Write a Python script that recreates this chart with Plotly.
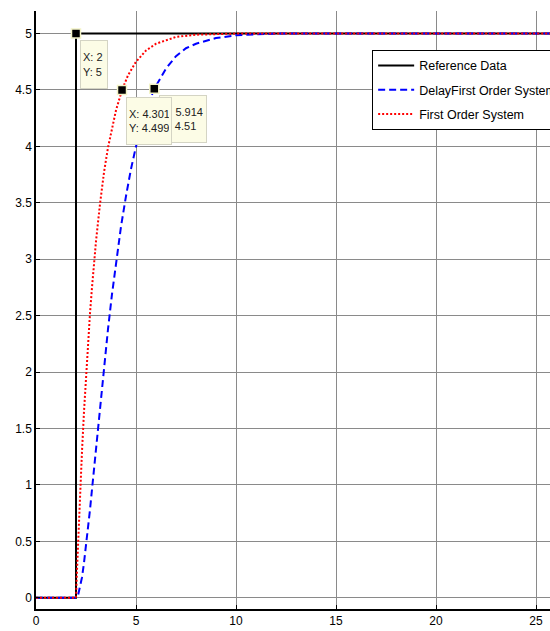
import plotly.graph_objects as go

# Reference step input
ref_t = [0, 2, 2, 30]
ref_y = [0, 0, 5, 5]

# Delay first order system (blue dashed)
delay_t = [0, 2.0, 2.1, 2.2, 2.3, 2.4, 2.5, 2.6, 2.7, 2.8, 2.9, 3.0, 3.2, 3.4, 3.6, 3.8, 4.0,
           4.25, 4.5, 4.75, 5.0, 5.5, 5.914, 6.5, 7.0, 7.5, 8.0, 9.0, 10.0, 11.0, 12.0, 30]
delay_y = [0, 0.0, 0.02, 0.09, 0.18, 0.31, 0.45, 0.61, 0.78, 0.96, 1.14, 1.32, 1.69, 2.04, 2.38, 2.69, 2.97,
           3.29, 3.56, 3.80, 4.00, 4.32, 4.51, 4.69, 4.80, 4.87, 4.91, 4.96, 4.985, 4.99, 5.0, 5.0]

# First order system (red dotted)
first_t = [0, 2.0, 2.05, 2.1, 2.15, 2.2, 2.3, 2.4, 2.5, 2.6, 2.7, 2.8, 2.9, 3.0, 3.2, 3.4, 3.6, 3.8,
           4.0, 4.301, 4.6, 5.0, 5.5, 6.0, 6.5, 7.0, 8.0, 9.0, 10.0, 30]
first_y = [0, 0.0, 0.24, 0.48, 0.70, 0.91, 1.30, 1.65, 1.97, 2.26, 2.52, 2.75, 2.97, 3.16, 3.49, 3.77, 3.99, 4.17,
           4.32, 4.499, 4.63, 4.75, 4.85, 4.91, 4.94, 4.97, 4.99, 4.995, 5.0, 5.0]

# Data tips (drawn in this order so the 4.301 tip covers part of the 5.914 tip)
tip_x = [2, 5.914, 4.301]
tip_y = [5, 4.51, 4.499]
tip_labels = ["X: 2<br>Y: 5", "X: 5.914<br>Y: 4.51", "X: 4.301<br>Y: 4.499"]
tip_box_w = [22, 42, 40]
tip_box_h = [43, 42, 42]
tip_shift_x = [4, 4.5, 4]
tip_shift_y = [-6, -6, -7]

x_ticks = [0, 5, 10, 15, 20, 25]
y_ticks = [0, 0.5, 1, 1.5, 2, 2.5, 3, 3.5, 4, 4.5, 5]

FONT = "Liberation Sans, Arial, sans-serif"

fig = go.Figure()
fig.add_trace(go.Scatter(x=ref_t, y=ref_y, mode="lines", name="Reference Data",
                         line=dict(color="black", width=2), legendgroup="a"))
fig.add_trace(go.Scatter(x=delay_t, y=delay_y, mode="lines", name="DelayFirst Order System",
                         line=dict(color="#0000ff", width=2, dash="7px,4px"),
                         legendgroup="b"))
fig.add_trace(go.Scatter(x=first_t, y=first_y, mode="lines", name="First Order System",
                         line=dict(color="#ff0000", width=2, dash="2px,2px"),
                         legendgroup="c"))
fig.add_trace(go.Scatter(x=tip_x, y=tip_y, mode="markers", showlegend=False,
                         marker=dict(symbol="square", size=9, color="black",
                                     line=dict(color="#f4f4c8", width=1.5))))

for tx, ty, lab, bw, bh, sx, sy in zip(tip_x, tip_y, tip_labels, tip_box_w, tip_box_h,
                                        tip_shift_x, tip_shift_y):
    fig.add_annotation(x=tx, y=ty, xref="x", yref="y", text=lab, showarrow=False,
                       xanchor="left", yanchor="top", xshift=sx, yshift=sy, align="left",
                       width=bw, height=bh,
                       font=dict(family=FONT, size=11, color="#222"),
                       bgcolor="#fcfce6", bordercolor="#d4d4c4", borderwidth=1, borderpad=2)

fig.update_layout(
    width=550, height=631,
    margin=dict(l=36, r=0, t=11, b=22, autoexpand=False),
    plot_bgcolor="white", paper_bgcolor="white",
    font=dict(family=FONT, size=12, color="black"),
    showlegend=True,
    legend=dict(x=0.654, y=0.935, xanchor="left", yanchor="top",
                bgcolor="white", bordercolor="black", borderwidth=1,
                font=dict(family=FONT, size=12.5, color="black"),
                tracegroupgap=5, itemwidth=36),
)
fig.update_xaxes(range=[0, 25.7], tickvals=x_ticks, ticktext=[str(v) for v in x_ticks],
                 showgrid=True, gridcolor="#8a8a8a", gridwidth=1, zeroline=False,
                 showline=True, linecolor="black", linewidth=1.5,
                 ticks="inside", ticklen=4, tickcolor="black")
fig.update_yaxes(range=[-0.1, 5.2], tickvals=y_ticks, ticktext=[f"{v:g}" for v in y_ticks],
                 showgrid=True, gridcolor="#8a8a8a", gridwidth=1, zeroline=False,
                 showline=True, linecolor="black", linewidth=1.5,
                 ticks="inside", ticklen=4, tickcolor="black")

fig.write_html("out.html")
